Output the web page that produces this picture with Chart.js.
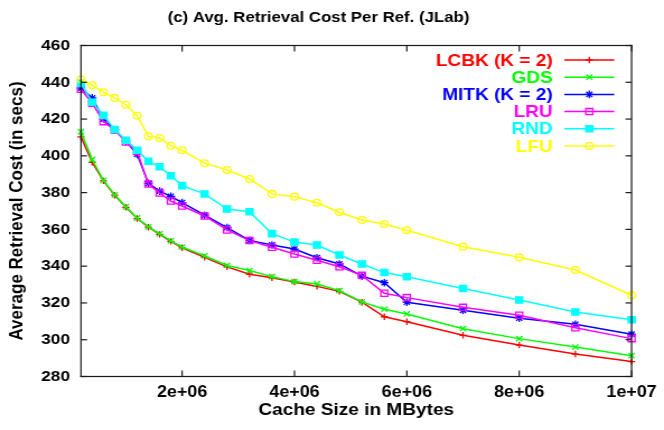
<!DOCTYPE html>
<html>
<head>
<meta charset="utf-8">
<script src="https://cdn.jsdelivr.net/npm/chart.js@4/dist/chart.umd.min.js"></script>
<style>
  html, body { margin: 0; padding: 0; background: #fff; }
</style>
</head>
<body>
<canvas id="chart" width="593" height="430" style="display:block;width:664px;height:430px;"></canvas>
<script>
// Cache sizes (x) and average retrieval cost per reference (y, seconds)
const cacheSizes = [2e5, 4e5, 6e5, 8e5, 1e6, 1.2e6, 1.4e6, 1.6e6, 1.8e6, 2e6,
                    2.4e6, 2.8e6, 3.2e6, 3.6e6, 4e6, 4.4e6, 4.8e6, 5.2e6, 5.6e6, 6e6,
                    7e6, 8e6, 9e6, 1e7];
const lcbk = [410.3, 396.5, 386.4, 378.6, 372.0, 365.9, 361.2, 357.3, 353.5, 350.0,
              344.8, 339.6, 335.6, 333.7, 331.4, 329.0, 326.3, 320.4, 312.5, 309.8,
              302.4, 297.1, 292.2, 288.1];
const gds  = [413.1, 398.0, 386.6, 378.8, 372.2, 366.2, 361.4, 357.6, 353.8, 350.4,
              345.6, 340.4, 337.6, 334.3, 331.6, 330.3, 326.7, 320.6, 316.6, 314.0,
              306.0, 300.6, 296.0, 291.3];
const mitk = [436.8, 431.5, 420.0, 414.2, 408.0, 400.8, 385.0, 380.8, 378.0, 374.6,
              367.7, 361.0, 354.0, 351.5, 349.3, 344.6, 341.2, 334.6, 331.0, 320.4,
              316.0, 311.7, 308.4, 303.0];
const lru  = [436.2, 428.6, 418.6, 414.0, 407.5, 402.3, 384.7, 379.8, 375.4, 372.7,
              367.3, 359.7, 353.9, 350.3, 346.6, 343.2, 339.7, 335.0, 325.3, 322.9,
              317.6, 313.3, 306.5, 300.6];
const rnd  = [439.4, 429.2, 422.0, 414.3, 408.5, 403.0, 397.0, 394.1, 389.2, 383.8,
              379.3, 371.1, 369.6, 357.7, 353.1, 351.5, 346.1, 341.2, 336.5, 334.3,
              327.8, 321.6, 315.1, 310.9];
const lfu  = [441.6, 438.4, 434.6, 431.5, 427.8, 421.8, 410.6, 409.7, 405.5, 403.0,
              396.0, 392.3, 387.4, 379.3, 377.8, 374.5, 369.3, 365.1, 362.9, 359.5,
              350.6, 344.8, 337.9, 324.2];

const seriesNames = ['LCBK (K = 2)', 'GDS', 'MITK (K = 2)', 'LRU', 'RND', 'LFU'];
const seriesValues = [lcbk, gds, mitk, lru, rnd, lfu];

const xTickValues = [2e6, 4e6, 6e6, 8e6, 1e7];
const xTickLabels = ['2e+06', '4e+06', '6e+06', '8e+06', '1e+07'];
const yTickValues = [280, 300, 320, 340, 360, 380, 400, 420, 440, 460];
const yTickLabels = ['280', '300', '320', '340', '360', '380', '400', '420', '440', '460'];

// Per-series look: gnuplot-like colours and point types
const lineColors = ['#ff0000', '#00ff00', '#0000ff', '#ff00ff', '#00ffff', '#ffff00'];
const markStyles = [
  { style: 'cross',    r: 3.2, fill: 'rgba(0,0,0,0)' },
  { style: 'crossRot', r: 3.8, fill: 'rgba(0,0,0,0)' },
  { style: 'star',     r: 3.8, fill: 'rgba(0,0,0,0)' },
  { style: 'rect',     r: 4.4, fill: 'rgba(0,0,0,0)' },
  { style: 'rect',     r: 4.4, fill: '#00ffff' },
  { style: 'circle',   r: 3.4, fill: 'rgba(0,0,0,0)' }
];

const FONT = '"Liberation Sans", Arial, Helvetica, sans-serif';

const datasets = seriesNames.map((name, i) => ({
  label: name,
  data: cacheSizes.map((x, j) => ({ x: x, y: seriesValues[i][j] })),
  borderColor: lineColors[i],
  backgroundColor: markStyles[i].fill,
  pointBackgroundColor: markStyles[i].fill,
  pointBorderColor: lineColors[i],
  pointStyle: markStyles[i].style,
  pointRadius: markStyles[i].r,
  pointHoverRadius: markStyles[i].r,
  pointBorderWidth: 1.3,
  borderWidth: 1.5,
  tension: 0,
  fill: false,
  clip: false,
  order: seriesNames.length - 1 - i
}));

// Plot box with inward ticks on all four sides
const axesBoxPlugin = {
  id: 'axesBox',
  afterDraw(chart) {
    const ctx = chart.ctx;
    const a = chart.chartArea;
    const sx = chart.scales.x, sy = chart.scales.y;
    const w = 1.2, h = w / 2;
    const tx = 5.4, ty = 6;
    ctx.save();
    ctx.fillStyle = '#1a1a1a';
    ctx.fillRect(a.left - h, a.top - h, a.right - a.left + w, w);
    ctx.fillRect(a.left - h, a.bottom - h, a.right - a.left + w, w);
    ctx.fillRect(a.left - h, a.top - h, w, a.bottom - a.top + w);
    ctx.fillRect(a.right - h, a.top - h, w, a.bottom - a.top + w);
    yTickValues.forEach(v => {
      const y = sy.getPixelForValue(v);
      ctx.fillRect(a.left, y - h, tx, w);
      ctx.fillRect(a.right - tx, y - h, tx, w);
    });
    xTickValues.forEach(v => {
      const x = sx.getPixelForValue(v);
      ctx.fillRect(x - h, a.bottom - ty, w, ty);
      ctx.fillRect(x - h, a.top, w, ty);
    });
    ctx.restore();
  }
};

// Key in the upper right: right-aligned coloured names, then a line sample with its point
const keyPlugin = {
  id: 'seriesKey',
  afterDatasetsDraw(chart) {
    const ctx = chart.ctx;
    const textRight = 493.6, lineFrom = 504, lineTo = 548.6, markAt = 526.3;
    ctx.save();
    ctx.font = 'bold 17px ' + FONT;
    ctx.textAlign = 'right';
    ctx.textBaseline = 'middle';
    chart.data.datasets.forEach((ds, i) => {
      const y = 60 + i * 17.2;
      ctx.fillStyle = ds.borderColor;
      ctx.fillText(ds.label, textRight, y + 1);
      ctx.strokeStyle = ds.borderColor;
      ctx.lineWidth = 1.5;
      ctx.beginPath();
      ctx.moveTo(lineFrom, y); ctx.lineTo(lineTo, y);
      ctx.stroke();
      ctx.fillStyle = ds.pointBackgroundColor;
      ctx.lineWidth = 1.3;
      Chart.helpers.drawPoint(ctx, { pointStyle: ds.pointStyle, radius: ds.pointRadius, borderWidth: 1.3, rotation: 0 }, markAt, y);
    });
    ctx.restore();
  }
};

new Chart(document.getElementById('chart'), {
  type: 'line',
  data: { datasets: datasets },
  plugins: [keyPlugin, axesBoxPlugin],
  options: {
    responsive: false,
    devicePixelRatio: 1,
    animation: false,
    events: [],
    layout: { padding: { left: 0, right: 24.1, top: 0, bottom: 0 } },
    plugins: {
      legend: { display: false },
      tooltip: { enabled: false },
      title: {
        display: true,
        text: '(c) Avg. Retrieval Cost Per Ref. (JLab)',
        color: '#000',
        font: { family: FONT, size: 15, weight: 'bold', lineHeight: 1.2 },
        padding: { top: 9, bottom: 18.5 }
      }
    },
    scales: {
      x: {
        type: 'linear',
        min: 2e5,
        max: 1e7,
        afterBuildTicks: s => { s.ticks = xTickValues.map(v => ({ value: v })); },
        afterFit: s => { s.height = 53.5; },
        ticks: {
          autoSkip: false,
          maxRotation: 0,
          padding: 6.5,
          color: '#000',
          font: { family: FONT, size: 16, weight: 'bold', lineHeight: 1.2 },
          callback: v => xTickLabels[xTickValues.indexOf(v)]
        },
        grid: { display: false, drawTicks: false },
        border: { display: false },
        title: {
          display: true,
          text: 'Cache Size in MBytes',
          color: '#000',
          font: { family: FONT, size: 17, weight: 'bold', lineHeight: 1.2 },
          padding: { top: 0, bottom: 9.5 }
        }
      },
      y: {
        type: 'linear',
        min: 280,
        max: 460,
        afterBuildTicks: s => { s.ticks = yTickValues.map(v => ({ value: v })); },
        afterFit: s => { s.width = 72.3; },
        ticks: {
          autoSkip: false,
          padding: 9.8,
          color: '#000',
          font: { family: FONT, size: 15.5, weight: 'bold', lineHeight: 1.2 },
          callback: v => yTickLabels[yTickValues.indexOf(v)]
        },
        grid: { display: false, drawTicks: false },
        border: { display: false },
        title: {
          display: true,
          text: 'Average Retrieval Cost (in secs)',
          color: '#000',
          font: { family: FONT, size: 17, weight: 'bold', lineHeight: 1.2 },
          padding: { top: 5, bottom: 0 }
        }
      }
    }
  }
});
</script>
</body>
</html>
